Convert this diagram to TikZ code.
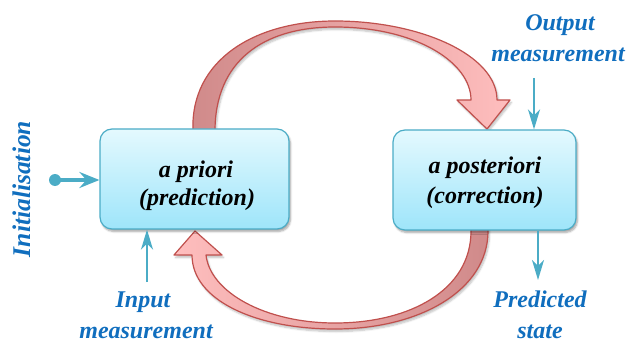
\documentclass[tikz,border=0pt]{standalone}
\usepackage{fontspec}
\setmainfont{Liberation Serif}
\usetikzlibrary{arrows.meta,shadows.blur}

\definecolor{tealline}{RGB}{75,172,198}
\definecolor{labelblue}{RGB}{16,110,190}
\definecolor{boxtop}{RGB}{228,249,254}
\definecolor{boxbot}{RGB}{158,229,250}
\definecolor{redline}{RGB}{192,80,77}
\definecolor{pinkdark}{RGB}{208,138,138}
\definecolor{pinklight}{RGB}{255,190,190}

\begin{document}
\begin{tikzpicture}[x=1pt,y=-1pt,
  stagebox/.style={draw=tealline, line width=1.2pt, rounded corners=12pt,
    top color=boxtop, bottom color=boxbot, minimum width=#1,
    minimum height=100pt, inner sep=0pt,
    blur shadow={shadow xshift=1.5pt, shadow yshift=-2.5pt,
      shadow opacity=35, shadow blur steps=6}},
  boxtext/.style={font=\fontsize{24}{28}\selectfont\bfseries\itshape,
    text=black, anchor=base, inner sep=0pt},
  label/.style={font=\fontsize{24}{30}\selectfont\bfseries\itshape,
    text=labelblue, anchor=base, inner sep=0pt},
  feed/.style={draw=tealline, line width=2pt,
    -{Stealth[length=20pt,width=12pt,inset=6pt]}},
  loopband/.style={draw=redline, line width=1.2pt, line join=round,
    blur shadow={shadow xshift=1.5pt, shadow yshift=-2.5pt,
      shadow opacity=25, shadow blur steps=6}}
]
\useasboundingbox (0,0) rectangle (629,342);

% upper loop arrow: prediction -> correction (its foot hides behind the box)
\path[loopband, left color=pinkdark, right color=pinklight]
  (193,145) -- (193,131) .. controls (190,60) and (255,21) .. (335,21)
  .. controls (420,21) and (497,55) .. (497,100)
  -- (510,100) -- (487,129) -- (457,100) -- (471,100)
  .. controls (471,62) and (415,27) .. (335,27)
  .. controls (262,27) and (215,62) .. (215,131) -- (215,145) -- cycle;

% lower loop arrow: correction -> prediction (its foot hides behind the box)
\path[loopband, left color=pinklight, right color=pinkdark]
  (488,215) -- (488,231) .. controls (488,290) and (420,329) .. (335,329)
  .. controls (255,329) and (192,300) .. (192,255)
  -- (174,255) -- (195,231) -- (222,255) -- (206,255)
  .. controls (210,292) and (265,323) .. (335,323)
  .. controls (410,323) and (471,290) .. (471,231) -- (471,215) -- cycle;

% the two estimation stages
\node[stagebox=189pt] (prior) at (194.5,179) {};
\node[stagebox=183pt] (post) at (484.5,180) {};

\node[boxtext] (prior1) at (196,177) {a priori};
\node[boxtext] (prior2) at (197,205) {(prediction)};
\node[boxtext] (post1) at (485,173) {a posteriori};
\node[boxtext] (post2) at (485,203) {(correction)};

% initialisation
\node[label, font=\fontsize{25.5}{30}\selectfont\bfseries\itshape, rotate=90]
  (init) at (30,189) {Initialisation};
\node[circle, fill=tealline, minimum size=12pt, inner sep=0pt] (seed) at (55,180) {};
\draw[draw=tealline, line width=4pt,
  -{Stealth[length=20pt,width=16pt,inset=7pt]}]
  (seed.center) -- (seed.center -| prior.west);

% input measurement
\node[label] (in1) at (143,307) {Input};
\node[label] (in2) at (146,338) {measurement};
\coordinate (intail) at (147,282);
\draw[feed] (intail) -- (intail |- prior.south);

% output measurement
\node[label] (out1) at (560,31) {Output};
\node[label] (out2) at (558,62) {measurement};
\coordinate (outtail) at (534,78);
\draw[feed] (outtail) -- (outtail |- post.north);

% predicted state
\node[label] (pred1) at (540,307) {Predicted};
\node[label] (pred2) at (540,338) {state};
\coordinate (predhead) at (538,280);
\draw[feed] (predhead |- post.south) -- (predhead);
\end{tikzpicture}
\end{document}
